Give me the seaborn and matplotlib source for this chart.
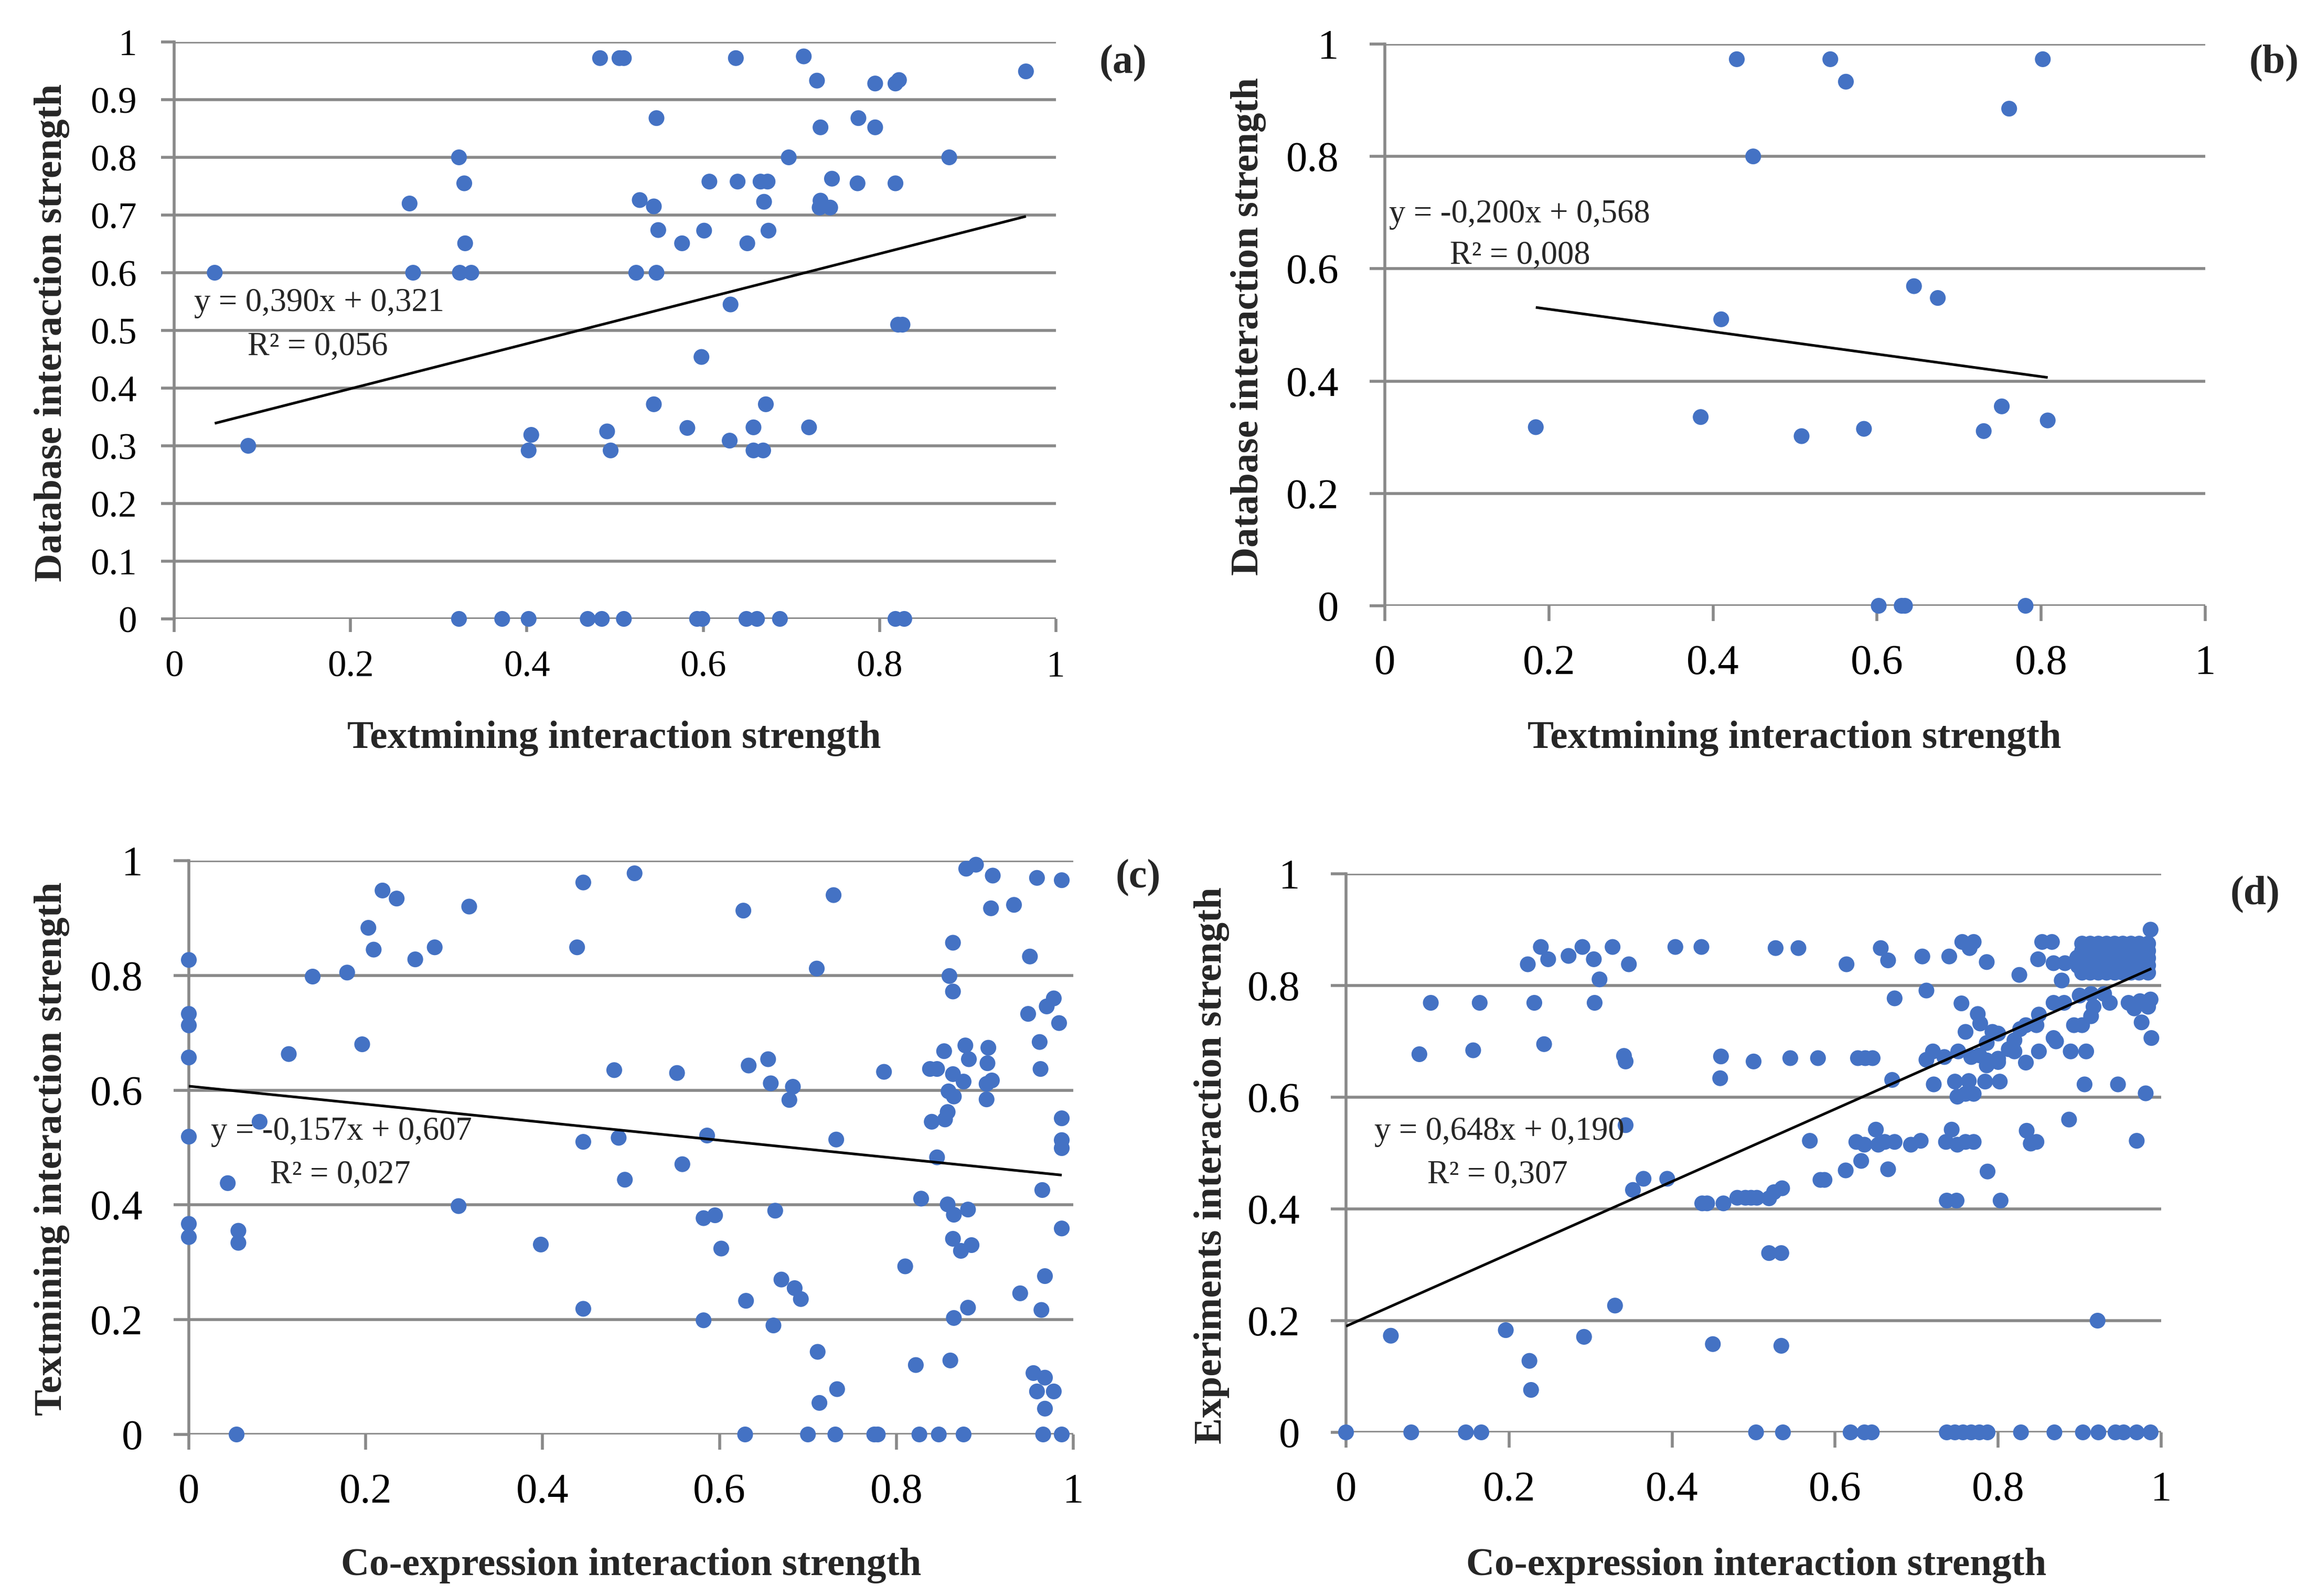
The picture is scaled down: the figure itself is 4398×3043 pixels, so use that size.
import matplotlib
matplotlib.use("Agg")
import matplotlib.pyplot as plt
import seaborn as sns
import pandas as pd

# ---------------- data ----------------
# (a) Textmining vs Database
a_x = [0.046, 0.084, 0.267, 0.271, 0.323, 0.329, 0.330, 0.324, 0.337, 0.323,
       0.372, 0.402, 0.405, 0.402, 0.469, 0.485, 0.510, 0.483, 0.505, 0.510,
       0.491, 0.495, 0.547, 0.528, 0.544, 0.549, 0.524, 0.547, 0.544, 0.576,
       0.582, 0.601, 0.607, 0.598, 0.593, 0.599, 0.631, 0.630, 0.637, 0.639,
       0.650, 0.649, 0.661, 0.657, 0.657, 0.668, 0.671, 0.665, 0.673, 0.669,
       0.674, 0.687, 0.697, 0.714, 0.720, 0.729, 0.733, 0.733, 0.732, 0.744,
       0.746, 0.775, 0.776, 0.795, 0.795, 0.818, 0.822, 0.818, 0.821, 0.826,
       0.818, 0.828, 0.879, 0.966]
a_y = [0.600, 0.300, 0.720, 0.600, 0.800, 0.755, 0.651, 0.600, 0.600, 0.000,
       0.000, 0.000, 0.319, 0.292, 0.000, 0.000, 0.000, 0.972, 0.972, 0.972,
       0.325, 0.292, 0.868, 0.726, 0.715, 0.674, 0.600, 0.600, 0.372, 0.651,
       0.331, 0.673, 0.758, 0.454, 0.000, 0.000, 0.545, 0.309, 0.972, 0.758,
       0.651, 0.000, 0.000, 0.332, 0.292, 0.292, 0.372, 0.758, 0.758, 0.723,
       0.673, 0.000, 0.800, 0.975, 0.332, 0.933, 0.852, 0.725, 0.713, 0.713,
       0.763, 0.755, 0.868, 0.928, 0.852, 0.928, 0.934, 0.755, 0.510, 0.510,
       0.000, 0.000, 0.800, 0.949]

# (b) Textmining vs Database
b_x = [0.184, 0.385, 0.410, 0.429, 0.449, 0.508, 0.543, 0.562, 0.584, 0.602,
       0.630, 0.634, 0.645, 0.674, 0.730, 0.752, 0.761, 0.781, 0.802, 0.808]
b_y = [0.318, 0.336, 0.510, 0.973, 0.800, 0.302, 0.973, 0.933, 0.315, 0.000,
       0.000, 0.000, 0.569, 0.548, 0.311, 0.355, 0.885, 0.000, 0.973, 0.330]

# (c) Co-expression vs Textmining
c_x = [0.000, 0.000, 0.000, 0.000, 0.000, 0.000, 0.000, 0.044, 0.056, 0.056,
       0.054, 0.080, 0.113, 0.140, 0.179, 0.196, 0.203, 0.209, 0.219, 0.235,
       0.256, 0.278, 0.305, 0.317, 0.398, 0.439, 0.446, 0.446, 0.446, 0.481,
       0.486, 0.493, 0.504, 0.552, 0.558, 0.582, 0.582, 0.586, 0.595, 0.602,
       0.627, 0.630, 0.629, 0.633, 0.655, 0.658, 0.663, 0.661, 0.670, 0.679,
       0.683, 0.685, 0.692, 0.700, 0.710, 0.711, 0.713, 0.729, 0.732, 0.733,
       0.731, 0.775, 0.779, 0.786, 0.810, 0.822, 0.826, 0.828, 0.838, 0.840,
       0.846, 0.846, 0.848, 0.854, 0.855, 0.858, 0.859, 0.858, 0.861, 0.864,
       0.860, 0.864, 0.864, 0.865, 0.865, 0.864, 0.865, 0.873, 0.876, 0.878,
       0.876, 0.879, 0.882, 0.881, 0.881, 0.885, 0.890, 0.902, 0.903, 0.904,
       0.902, 0.908, 0.907, 0.909, 0.933, 0.940, 0.949, 0.951, 0.955, 0.959,
       0.959, 0.962, 0.963, 0.965, 0.964, 0.966, 0.968, 0.968, 0.968, 0.970,
       0.978, 0.978, 0.984, 0.987, 0.987, 0.987, 0.987, 0.987, 0.987]
c_y = [0.827, 0.733, 0.713, 0.657, 0.519, 0.367, 0.344, 0.438, 0.355, 0.334,
       0.000, 0.545, 0.663, 0.798, 0.805, 0.680, 0.883, 0.845, 0.948, 0.934,
       0.828, 0.849, 0.398, 0.920, 0.331, 0.849, 0.962, 0.510, 0.219, 0.635,
       0.517, 0.444, 0.978, 0.630, 0.471, 0.199, 0.377, 0.521, 0.382, 0.324,
       0.913, 0.233, 0.000, 0.643, 0.654, 0.612, 0.390, 0.190, 0.270, 0.583,
       0.606, 0.255, 0.236, 0.000, 0.812, 0.144, 0.055, 0.940, 0.514, 0.079,
       0.000, 0.000, 0.000, 0.632, 0.293, 0.121, 0.000, 0.411, 0.637, 0.545,
       0.637, 0.483, 0.000, 0.668, 0.549, 0.562, 0.598, 0.401, 0.129, 0.857,
       0.799, 0.772, 0.628, 0.589, 0.383, 0.341, 0.203, 0.320, 0.615, 0.678,
       0.000, 0.986, 0.654, 0.392, 0.221, 0.330, 0.993, 0.584, 0.647, 0.674,
       0.611, 0.617, 0.917, 0.974, 0.923, 0.246, 0.733, 0.833, 0.107, 0.075,
       0.970, 0.684, 0.637, 0.426, 0.217, 0.000, 0.099, 0.045, 0.276, 0.746,
       0.760, 0.075, 0.717, 0.000, 0.966, 0.551, 0.513, 0.499, 0.359]

# (d) Co-expression vs Experiments
d_x = [0.000, 0.080, 0.147, 0.166, 0.503, 0.536, 0.619, 0.636, 0.645, 0.737,
       0.747, 0.757, 0.767, 0.777, 0.787, 0.828, 0.869, 0.904, 0.923, 0.944,
       0.954, 0.970, 0.987,
       0.055, 0.196, 0.225, 0.227, 0.292, 0.330, 0.450, 0.534, 0.922, 0.519,
       0.534,
       0.343, 0.352, 0.365, 0.394, 0.437, 0.443, 0.463, 0.480, 0.490, 0.497,
       0.504, 0.519, 0.525, 0.535, 0.582, 0.587, 0.613, 0.632, 0.665, 0.569,
       0.626, 0.636, 0.653, 0.661, 0.673, 0.693, 0.705, 0.736, 0.750, 0.760,
       0.770, 0.835, 0.840, 0.847, 0.970, 0.737, 0.749, 0.803, 0.787, 0.650,
       0.743, 0.887,
       0.090, 0.156, 0.243, 0.341, 0.343, 0.460, 0.459, 0.500, 0.545, 0.579,
       0.628, 0.637, 0.646, 0.670, 0.721, 0.747, 0.764, 0.784, 0.802, 0.750,
       0.760, 0.770, 0.906, 0.947, 0.981, 0.734, 0.720, 0.712, 0.751, 0.767,
       0.777, 0.786, 0.800, 0.800, 0.786, 0.813, 0.820, 0.834, 0.850, 0.889,
       0.908, 0.871, 0.868, 0.820, 0.827, 0.800, 0.793, 0.786, 0.760, 0.778,
       0.775, 0.834, 0.847, 0.850, 0.893, 0.903, 0.914, 0.988, 0.976,
       0.104, 0.164, 0.231, 0.305, 0.673, 0.712, 0.755, 0.868, 0.881, 0.900,
       0.914, 0.930, 0.937, 0.917, 0.960, 0.974, 0.987, 0.984, 0.967, 0.311,
       0.223, 0.239, 0.248, 0.273, 0.290, 0.304, 0.327, 0.347, 0.404, 0.436,
       0.527, 0.555, 0.614, 0.656, 0.665, 0.707, 0.740, 0.756, 0.770, 0.765,
       0.786, 0.826, 0.849, 0.854, 0.866, 0.868, 0.882, 0.878, 0.987,
       0.903, 0.913, 0.923, 0.933, 0.943, 0.953, 0.963, 0.973, 0.984,
       0.903, 0.913, 0.923, 0.933, 0.943, 0.953, 0.963, 0.973, 0.984,
       0.903, 0.913, 0.923, 0.933, 0.943, 0.953, 0.963, 0.973, 0.984,
       0.903, 0.913, 0.923, 0.933, 0.943, 0.953, 0.963, 0.973, 0.984,
       0.903, 0.913, 0.923, 0.933, 0.943, 0.953, 0.963, 0.973, 0.984,
       0.897, 0.898]
d_y = [0.000, 0.000, 0.000, 0.000, 0.000, 0.000, 0.000, 0.000, 0.000, 0.000,
       0.000, 0.000, 0.000, 0.000, 0.000, 0.000, 0.000, 0.000, 0.000, 0.000,
       0.000, 0.000, 0.000,
       0.173, 0.183, 0.128, 0.076, 0.171, 0.227, 0.158, 0.155, 0.200, 0.321,
       0.321,
       0.550, 0.434, 0.454, 0.454, 0.410, 0.410, 0.410, 0.420, 0.420, 0.420,
       0.420, 0.419, 0.430, 0.437, 0.452, 0.452, 0.469, 0.486, 0.471, 0.522,
       0.520, 0.515, 0.515, 0.520, 0.520, 0.515, 0.522, 0.520, 0.515, 0.520,
       0.520, 0.540, 0.517, 0.520, 0.522, 0.415, 0.415, 0.415, 0.467, 0.542,
       0.542, 0.560,
       0.677, 0.684, 0.695, 0.674, 0.664, 0.673, 0.634, 0.664, 0.670, 0.670,
       0.670, 0.670, 0.670, 0.631, 0.623, 0.628, 0.629, 0.628, 0.628, 0.601,
       0.606, 0.606, 0.623, 0.623, 0.607, 0.672, 0.682, 0.667, 0.682, 0.672,
       0.675, 0.657, 0.663, 0.669, 0.666, 0.686, 0.682, 0.662, 0.682, 0.682,
       0.682, 0.700, 0.706, 0.702, 0.722, 0.714, 0.717, 0.697, 0.717, 0.732,
       0.749, 0.729, 0.729, 0.748, 0.729, 0.729, 0.745, 0.706, 0.734,
       0.769, 0.769, 0.769, 0.769, 0.777, 0.791, 0.768, 0.769, 0.769, 0.782,
       0.785, 0.785, 0.769, 0.762, 0.769, 0.772, 0.775, 0.762, 0.759, 0.811,
       0.838, 0.869, 0.847, 0.853, 0.869, 0.847, 0.869, 0.838, 0.869, 0.869,
       0.867, 0.867, 0.838, 0.867, 0.845, 0.852, 0.852, 0.878, 0.878, 0.867,
       0.842, 0.819, 0.847, 0.878, 0.878, 0.840, 0.840, 0.809, 0.900,
       0.823, 0.823, 0.823, 0.823, 0.823, 0.823, 0.823, 0.823, 0.823,
       0.836, 0.836, 0.836, 0.836, 0.836, 0.836, 0.836, 0.836, 0.836,
       0.849, 0.849, 0.849, 0.849, 0.849, 0.849, 0.849, 0.849, 0.849,
       0.862, 0.862, 0.862, 0.862, 0.862, 0.862, 0.862, 0.862, 0.862,
       0.875, 0.875, 0.875, 0.875, 0.875, 0.875, 0.875, 0.875, 0.875,
       0.850, 0.835]

# trend-line coefficients (slope, intercept) and printed texts
trend_slopes = [0.390, -0.200, -0.157, 0.648]
trend_intercepts = [0.321, 0.568, 0.607, 0.190]
eq_texts = ["y = 0,390x + 0,321", "y = -0,200x + 0,568",
            "y = -0,157x + 0,607", "y = 0,648x + 0,190"]
r2_texts = ["R² = 0,056", "R² = 0,008", "R² = 0,027", "R² = 0,307"]
panel_tags = ["(a)", "(b)", "(c)", "(d)"]
x_titles = ["Textmining interaction strength", "Textmining interaction strength",
            "Co-expression interaction strength", "Co-expression interaction strength"]
y_titles = ["Database interaction strength", "Database interaction strength",
            "Textmining interaction strength", "Experiments interaction strength"]

x_ticks = [0, 0.2, 0.4, 0.6, 0.8, 1.0]
x_ticklabels = ["0", "0.2", "0.4", "0.6", "0.8", "1"]
a_yticks = [0, 0.1, 0.2, 0.3, 0.4, 0.5, 0.6, 0.7, 0.8, 0.9, 1.0]
a_yticklabels = ["0", "0.1", "0.2", "0.3", "0.4", "0.5", "0.6", "0.7", "0.8", "0.9", "1"]
y_ticks = [0, 0.2, 0.4, 0.6, 0.8, 1.0]
y_ticklabels = ["0", "0.2", "0.4", "0.6", "0.8", "1"]

# ---------------- style ----------------
sns.set_theme(style="white")
plt.rcParams['font.family'] = ['Liberation Serif', 'DejaVu Serif']

W, H, DPI = 4398, 3043, 100
fig = plt.figure(figsize=(W / DPI, H / DPI), dpi=DPI)
GRID = '#898989'
DOT = '#4472C4'


def rect(l, t, r, b):
    return [l / W, 1 - b / H, (r - l) / W, (b - t) / H]


def ftext(x, y, s, **kw):
    fig.text(x / W, 1 - y / H, s, **kw)


panels = [
    dict(x=a_x, y=a_y, rect=rect(332, 80, 2013, 1180), yt=a_yticks, yl=a_yticklabels,
         fs=51, tlen=18, ypad=33, xpad=25,
         eq=(370, 578), r2=(472, 662), tag=(2141, 121), xt=(1171, 1408), ytl=(99, 634)),
    dict(x=b_x, y=b_y, rect=rect(2640, 84, 4204, 1155), yt=y_ticks, yl=y_ticklabels,
         fs=58, tlen=21, ypad=42, xpad=32,
         eq=(2648, 409), r2=(2764, 488), tag=(4335, 121), xt=(3421, 1408), ytl=(2380, 622)),
    dict(x=c_x, y=c_y, rect=rect(360, 1641, 2046, 2735), yt=y_ticks, yl=y_ticklabels,
         fs=58, tlen=21, ypad=42, xpad=32,
         eq=(402, 2158), r2=(515, 2241), tag=(2170, 1674), xt=(1203, 2985), ytl=(99, 2190)),
    dict(x=d_x, y=d_y, rect=rect(2566, 1666, 4120, 2731), yt=y_ticks, yl=y_ticklabels,
         fs=58, tlen=21, ypad=42, xpad=32,
         eq=(2620, 2158), r2=(2721, 2241), tag=(4299, 1706), xt=(3348, 2985), ytl=(2310, 2222)),
]

for i, p in enumerate(panels):
    ax = fig.add_axes(p['rect'])
    df = pd.DataFrame({'x': p['x'], 'y': p['y']})
    sns.scatterplot(data=df, x='x', y='y', ax=ax, color=DOT, s=470,
                    edgecolor='none', linewidth=0, clip_on=False, zorder=3)
    x0, x1 = df['x'].min(), df['x'].max()
    m, b = trend_slopes[i], trend_intercepts[i]
    ax.plot([x0, x1], [m * x0 + b, m * x1 + b], color='black', lw=3.6,
            zorder=4, solid_capstyle='butt')

    ax.set_xlim(0, 1)
    ax.set_ylim(0, 1)
    ax.set_xticks(x_ticks)
    ax.set_xticklabels(x_ticklabels)
    ax.set_yticks(p['yt'])
    ax.set_yticklabels(p['yl'])
    ax.set_xlabel('')
    ax.set_ylabel('')
    ax.yaxis.grid(True, color=GRID, linewidth=4)
    ax.xaxis.grid(False)
    ax.set_axisbelow(True)
    for s in ['top', 'right', 'bottom']:
        ax.spines[s].set_visible(False)
    ax.spines['left'].set_color(GRID)
    ax.spines['left'].set_linewidth(4)
    ax.tick_params(axis='both', which='major', direction='out', color=GRID, width=4,
                   length=p['tlen'], labelsize=p['fs'], labelcolor='black',
                   left=True, bottom=True)
    ax.tick_params(axis='y', pad=p['ypad'])
    ax.tick_params(axis='x', pad=p['xpad'])
    ax.set_facecolor('white')

    ftext(*p['eq'], eq_texts[i], fontsize=45, ha='left', va='center')
    ftext(*p['r2'], r2_texts[i], fontsize=45, ha='left', va='center')
    ftext(*p['tag'], panel_tags[i], fontsize=56, fontweight='bold', ha='center', va='center')
    ftext(*p['xt'], x_titles[i], fontsize=54, fontweight='bold', ha='center', va='center')
    ftext(*p['ytl'], y_titles[i], fontsize=54, fontweight='bold', ha='center', va='center',
          rotation=90)

fig.savefig('out.png', dpi=DPI, facecolor='white')
